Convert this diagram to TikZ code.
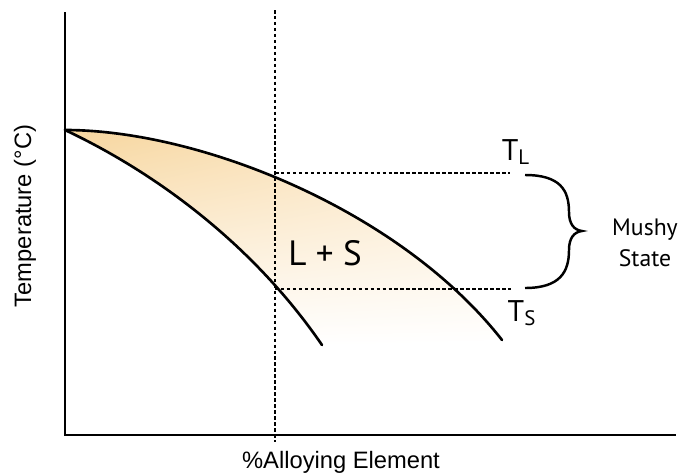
\documentclass[tikz,border=0pt]{standalone}
\usepackage{fontspec}
\setmainfont{Liberation Sans}
\newfontfamily\labelfont{PT Sans}
\usetikzlibrary{shadings}
\definecolor{mushfill}{HTML}{F7D69E}
\definecolor{mushpale}{HTML}{FBE9CC}
\tikzset{every picture/.style={line width=0.75pt}}
\tikzset{
  axisline/.style={line width=1.6pt},
  phaseline/.style={line width=1.5pt, line cap=round},
  guide/.style={line width=1pt, dash pattern=on 2pt off 1.4pt},
  axislab/.style={font=\fontsize{13.5}{16}\selectfont},
  plotlab/.style={font=\labelfont\fontsize{17}{20}\selectfont},
}

\begin{document}
\begin{tikzpicture}[x=0.02cm,y=-0.02cm]
    \useasboundingbox (0,0) rectangle (686,474);

    % 关键点
    \coordinate (origin) at (65,435);
    \coordinate (ytop) at (65,12);
    \coordinate (xend) at (676,435);
    \coordinate (melt) at (65,130);
    \coordinate (liqend) at (502,340);
    \coordinate (solend) at (322,345);
    \coordinate (liqcut) at (275,173);
    \coordinate (solcut) at (275,289);
    \coordinate (tlend) at (510,173);
    \coordinate (tsend) at (511,289);

    % 两相区
    \shade[upper left=mushfill, upper right=mushpale, lower left=white, lower right=white]
        (melt) .. controls (200,130) and (400,210) .. (liqend)
        -- (solend) .. controls (250,240) and (150,170) .. (melt);

    % 坐标轴
    \draw[axisline] (ytop) -- (origin) -- (xend);
    \node[axislab] (xlab) at (341,462) {\%Alloying Element};
    \node[axislab, rotate=90] (ylab) at (25,216) {Temperature (°C)};

    % 成分线
    \draw[guide] (275,10) -- (275,442);

    % 液相线与固相线
    \draw[phaseline] (melt) .. controls (200,130) and (400,210) .. (liqend);
    \draw[phaseline] (melt) .. controls (150,170) and (250,240) .. (solend);

    % 温度线
    \draw[guide] (liqcut) -- (tlend);
    \draw[guide] (solcut) -- (tsend);
    \node[plotlab] (tl) at (516,152) {T\textsubscript{L}};
    \node[plotlab] (ts) at (522,313) {T\textsubscript{S}};

    % 标注
    \node[plotlab, font=\labelfont\fontsize{20}{24}\selectfont] (ls) at (325,253) {L + S};
    \draw[line width=1.4pt] (525,175) .. controls (560,175) and (569,190) .. (569,212)
        .. controls (569,224) and (574,230) .. (582,231)
        .. controls (574,232) and (569,238) .. (569,250)
        .. controls (569,272) and (560,288) .. (525,288);
    \node[plotlab, font=\labelfont\fontsize{13.5}{17.5}\selectfont, align=center] (mushy) at (645,243) {Mushy\\State};
\end{tikzpicture}
\end{document}
